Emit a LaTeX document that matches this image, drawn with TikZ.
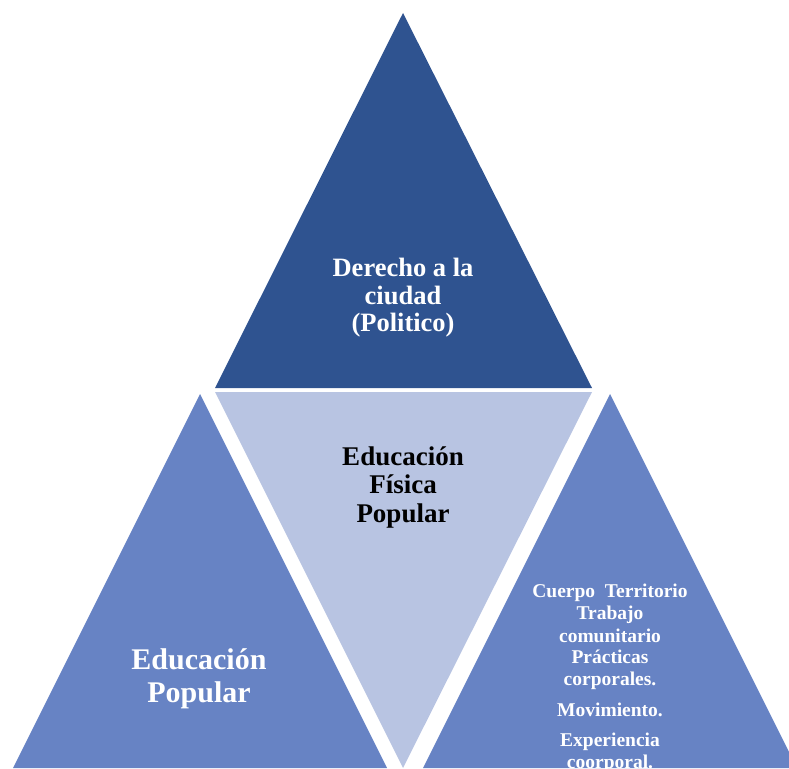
\documentclass[tikz,border=0pt]{standalone}
\usepackage{fontspec}
\setmainfont{Liberation Serif}
\definecolor{topblue}{HTML}{2F5390}
\definecolor{sideblue}{HTML}{6783C4}
\definecolor{midblue}{HTML}{B8C4E2}
\begin{document}
\begin{tikzpicture}[x=1pt,y=-1pt,
  tri/.style={draw=none},
  toptxt/.style={anchor=base,text=white,font=\bfseries\fontsize{26.5}{28}\selectfont,inner sep=0pt},
  midtxt/.style={anchor=base,text=black,font=\bfseries\fontsize{27}{28}\selectfont,inner sep=0pt},
  lefttxt/.style={anchor=base,text=white,font=\bfseries\fontsize{30}{33}\selectfont,inner sep=0pt},
  righttxt/.style={anchor=base,text=white,font=\bfseries\fontsize{19.5}{22}\selectfont,inner sep=0pt}]
\useasboundingbox (0,0) rectangle (789,768);
\clip (0,0) rectangle (789,768);
% triangles
\fill[topblue] (403,13) -- (592,388) -- (215,388) -- cycle;
\fill[midblue] (215,392) -- (592,392) -- (403,768) -- cycle;
\fill[sideblue] (200,394) -- (387,768) -- (13,768) -- cycle;
\fill[sideblue] (610,394) -- (797,768) -- (423,768) -- cycle;
% top text
\node[toptxt] (t1) at (403,276) {Derecho a la};
\node[toptxt] (t2) at (403,304) {ciudad};
\node[toptxt] (t3) at (403,331) {(Politico)};
% middle text
\node[midtxt] (m1) at (403,465) {Educación};
\node[midtxt] (m2) at (403,493.5) {Física};
\node[midtxt] (m3) at (403,522) {Popular};
% left text
\node[lefttxt] (l1) at (199,669) {Educación};
\node[lefttxt] (l2) at (199,702) {Popular};
% right text
\node[righttxt] (r1) at (610,597) {Cuerpo\ \ Territorio};
\node[righttxt] (r2) at (610,619) {Trabajo};
\node[righttxt] (r3) at (610,642) {comunitario};
\node[righttxt] (r4) at (610,663) {Prácticas};
\node[righttxt] (r5) at (610,685) {corporales.};
\node[righttxt] (r6) at (610,716) {Movimiento.};
\node[righttxt] (r7) at (610,746) {Experiencia};
\node[righttxt] (r8) at (610,768) {coorporal.};
\end{tikzpicture}
\end{document}
